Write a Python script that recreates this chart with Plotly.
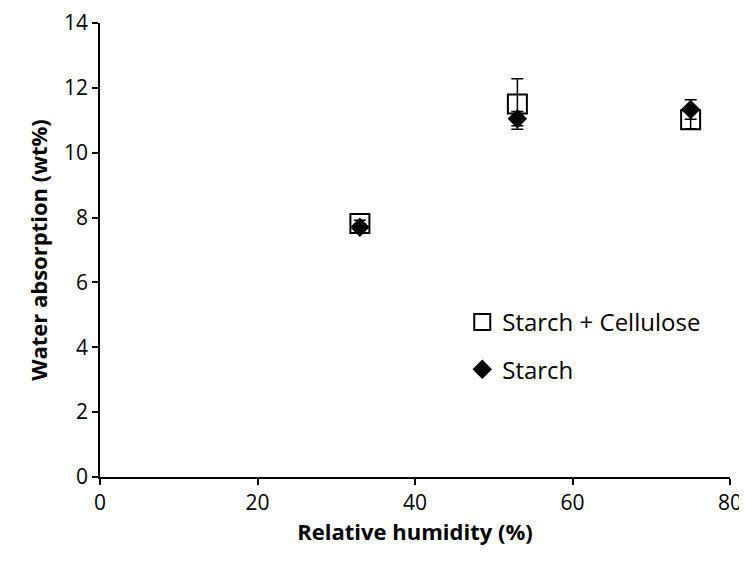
import plotly.graph_objects as go

rh = [33, 53, 75]
starch_cellulose = [7.82, 11.5, 11.02]
starch_cellulose_err = [0.1, 0.78, 0.28]
starch = [7.7, 11.05, 11.33]
starch_err = [0.1, 0.22, 0.3]

x_ticks = [0, 20, 40, 60, 80]
y_ticks = [0, 2, 4, 6, 8, 10, 12, 14]

FONT = "'Open Sans', Lato, sans-serif"

fig = go.Figure()
fig.add_trace(go.Scatter(
    x=rh, y=starch_cellulose, mode="markers", name="Starch + Cellulose",
    legendgroup="a",
    marker=dict(symbol="square-open", size=19, color="black", line=dict(width=2, color="black")),
    error_y=dict(type="data", array=starch_cellulose_err, visible=True, color="black", thickness=1.5, width=6),
))
fig.add_trace(go.Scatter(
    x=rh, y=starch, mode="markers", name="Starch",
    legendgroup="b",
    marker=dict(symbol="diamond", size=15, color="black"),
    error_y=dict(type="data", array=starch_err, visible=True, color="black", thickness=1.5, width=6),
))

fig.update_layout(
    width=739, height=559,
    margin=dict(l=92, r=17, t=15, b=90, autoexpand=False),
    plot_bgcolor="white", paper_bgcolor="white",
    font=dict(family=FONT, size=21, color="black"),
    legend=dict(x=0.575, y=0.39, xanchor="left", yanchor="top",
                font=dict(size=24), tracegroupgap=13,
                bgcolor="rgba(0,0,0,0)"),
    xaxis=dict(range=[0, 80], tickvals=x_ticks, showline=True, linecolor="black", linewidth=1.5,
               ticks="outside", ticklen=6, tickwidth=1.5, tickcolor="black", showgrid=False,
               zeroline=False, mirror=False, automargin=False, ticklabeloverflow="allow",
               title=dict(text="<b>Relative humidity (%)</b>", font=dict(size=22), standoff=2)),
    yaxis=dict(range=[0, 14], tickvals=y_ticks, showline=True, linecolor="black", linewidth=1.5,
               ticks="outside", ticklen=6, tickwidth=1.5, tickcolor="black", showgrid=False,
               zeroline=False, automargin=False, ticklabeloverflow="allow",
               title=dict(text="<b>Water absorption (wt%)</b>", font=dict(size=22), standoff=10)),
)

fig.write_html("out.html")
